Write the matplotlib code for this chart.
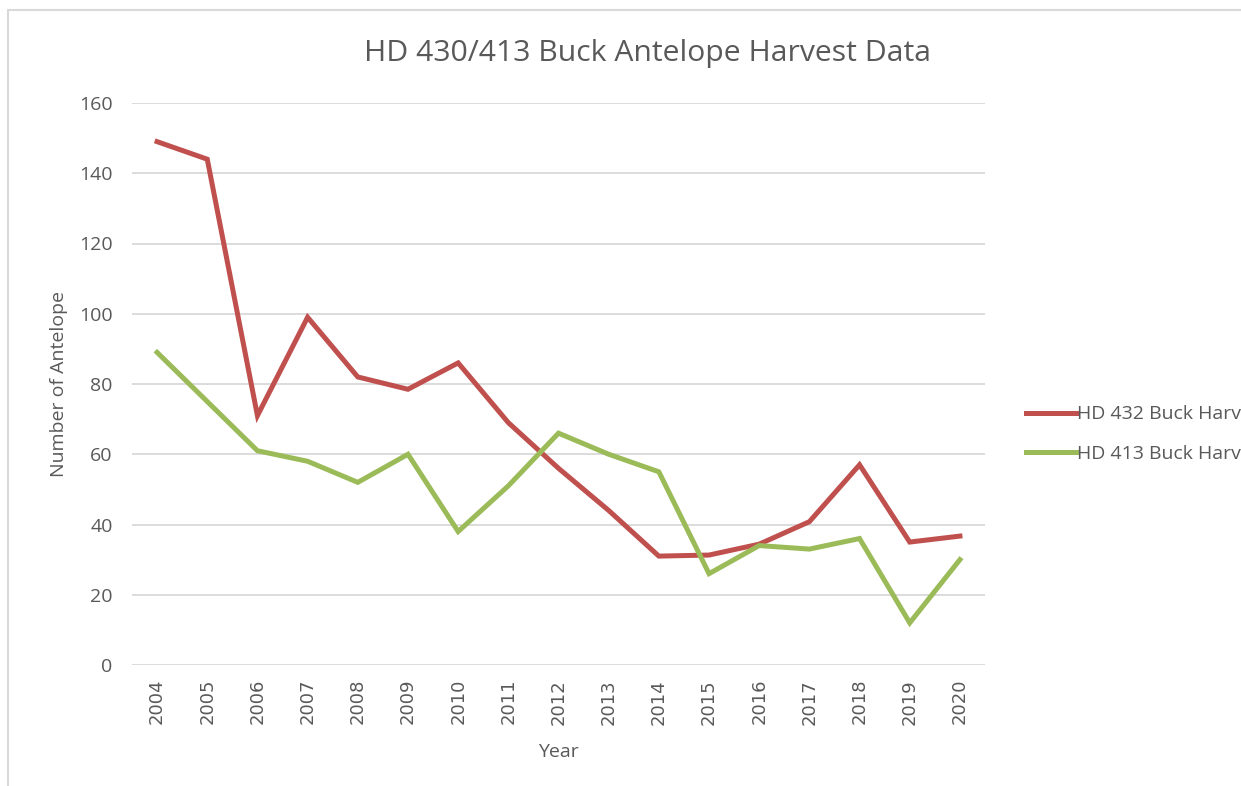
import matplotlib
matplotlib.use("Agg")
import matplotlib.pyplot as plt
from matplotlib.lines import Line2D

# harvest data
years = [2004, 2005, 2006, 2007, 2008, 2009, 2010, 2011, 2012,
         2013, 2014, 2015, 2016, 2017, 2018, 2019, 2020]
hd432 = [149, 144, 71, 99, 82, 78.5, 86, 69, 56, 44, 31, 31.3, 34.4, 40.8, 57, 35, 36.7]
hd413 = [89, 75, 61, 58, 52, 60, 38, 51, 66, 60, 55, 26, 34, 33, 36, 12, 30]
labels = ["HD 432 Buck Harvest", "HD 413 Buck Harvest"]

red = "#C0504D"
green = "#9BBB59"
txt = "#595959"
font = "Open Sans"

fig = plt.figure(figsize=(12.41, 7.86), dpi=100)
ax = fig.add_axes([132/1241, 1-665/786, (985-132)/1241, (665-103)/786])

x = list(range(len(years)))
ax.plot(x, hd432, color=red, lw=3.6, solid_joinstyle="miter", label=labels[0])
ax.plot(x, hd413, color=green, lw=3.6, solid_joinstyle="miter", label=labels[1])

ax.set_xlim(-0.5, len(years) - 0.5)
ax.set_ylim(0, 160)
ax.set_yticks(range(0, 161, 20))
ax.set_xticks(x)
ax.set_xticklabels([str(y) for y in years], rotation=90, fontsize=13,
                   color=txt, family="DejaVu Sans")
for t in ax.get_yticklabels():
    t.set_family(font)
    t.set_fontsize(14)
    t.set_color(txt)
ax.tick_params(length=0, pad=10)
ax.tick_params(axis="y", pad=14)
ax.grid(axis="y", color="#D9D9D9", lw=1.3)
ax.set_axisbelow(True)
for s in ax.spines.values():
    s.set_visible(False)

ax.set_ylabel("Number of Antelope", fontsize=14, color=txt, family=font, labelpad=8)
ax.set_xlabel("Year", fontsize=14, color=txt, family=font, labelpad=13)

fig.text(648/1241, 1-53/786, "HD 430/413 Buck Antelope Harvest Data",
         ha="center", va="center", fontsize=21.7, color=txt, family=font)

handles = [Line2D([], [], color=red, lw=3.6), Line2D([], [], color=green, lw=3.6)]
fig.legend(handles, labels, loc="center left", bbox_to_anchor=(1008/1241, 1-434/786),
           frameon=False, handlelength=2.6, handletextpad=0.05,
           labelspacing=1.1, labelcolor=txt, prop={"family": font, "size": 14})

# outer chart border
fig.add_artist(Line2D([8/1241, 1], [1-10/786, 1-10/786], color="#D9D9D9", lw=1.5))
fig.add_artist(Line2D([8/1241, 8/1241], [0, 1-10/786], color="#D9D9D9", lw=1.5))

fig.savefig("out.png", dpi=100)
